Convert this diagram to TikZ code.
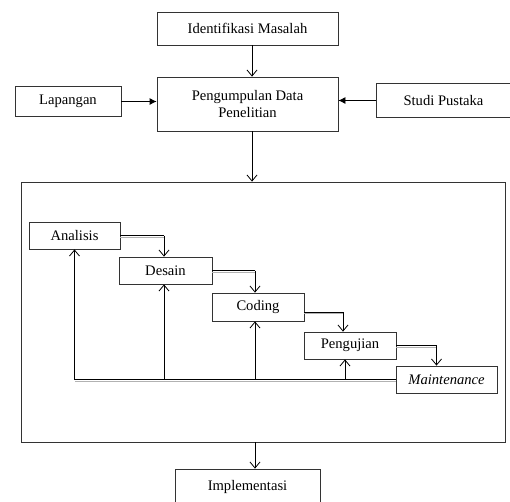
\documentclass[tikz,border=0pt]{standalone}
\usepackage{fontspec}
\setmainfont{Liberation Serif}
\usetikzlibrary{arrows,arrows.meta}

\begin{document}
\begin{tikzpicture}[x=1pt,y=-1pt,font=\fontsize{14.6}{17}\selectfont]
\tikzset{box/.style = {shape=rectangle,draw=black!80,line width=.8pt,inner sep=0pt,align=center}}
\tikzset{edge/.style = {-{Straight Barb[length=6pt,width=10pt]},line width=.8pt}}
\tikzset{feed/.style = {-{Latex[length=7pt,width=7pt]},line width=.8pt}}
\tikzset{line/.style = {line width=.8pt}}
\tikzset{shadowline/.style = {preaction={draw=black!30,line width=.8pt,transform canvas={yshift=-1.4pt}}}}
\useasboundingbox (0,0) rectangle (510,501);
% top boxes
\node[box,minimum width=181pt,minimum height=33pt] (idm) at (247.5,28.5) {Identifikasi Masalah};
\node[box,minimum width=181pt,minimum height=54pt] (pd) at (247.5,104) {Pengumpulan Data\\Penelitian};
\node[box,minimum width=106pt,minimum height=30pt] (lap) at (68,101.5) {Lapangan};
\node[box,minimum width=135pt,minimum height=34pt] (sp) at (443.5,100.5) {Studi Pustaka};

% phases
\node[box,minimum width=484pt,minimum height=260pt] (fase) at (263,312) {};
\node[box,minimum width=91pt,minimum height=27pt] (ana) at (74.5,235.5) {Analisis};
\node[box,minimum width=93pt,minimum height=27pt] (des) at (165.5,270.5) {Desain};
\node[box,minimum width=92pt,minimum height=28pt] (cod) at (258,307) {Coding};
\node[box,minimum width=92pt,minimum height=27pt] (pen) at (350,345.5) {Pengujian};
\node[box,minimum width=101pt,minimum height=27pt] (mai) at (446.5,379.5) {\textit{Maintenance}};
\node[box,minimum width=145pt,minimum height=36pt] (impl) at (247.5,487) {Implementasi};

% edges
\draw[edge] ([xshift=4.5pt]idm.south) -- ([xshift=4.5pt]pd.north);
\draw[feed] (lap.east) -- (lap.east -| pd.west);
\draw[feed] (sp.west) -- (sp.west -| pd.east);
\draw[edge] ([xshift=4.5pt]pd.south) -- ([xshift=4.5pt]pd.south |- fase.north);
\draw[edge] ([xshift=7.5pt]impl.north |- fase.south) -- ([xshift=7.5pt]impl.north);

% waterfall
\coordinate (xdes) at ([xshift=-1.5pt]des.north);
\coordinate (xcod) at ([xshift=-3pt]cod.north);
\coordinate (xpen) at ([xshift=-7pt]pen.north);
\coordinate (xmai) at ([xshift=-10pt]mai.north);
\coordinate (ycod) at ([yshift=-5pt]cod.east);
\draw[line,shadowline] (ana.east) -- (ana.east -| xdes);
\draw[edge] (ana.east -| xdes) -- (xdes);
\draw[line,shadowline] (des.east) -- (des.east -| xcod);
\draw[edge] (des.east -| xcod) -- (xcod);
\draw[line,shadowline] (ycod) -- (ycod -| xpen);
\draw[edge] (ycod -| xpen) -- (xpen);
\draw[line,shadowline] (pen.east) -- (pen.east -| xmai);
\draw[edge] (pen.east -| xmai) -- (xmai);

% feedback
\draw[line,shadowline] (mai.west) -- (ana.south |- mai.west);
\draw[edge] (ana.south |- mai.west) -- (ana.south);
\draw[edge] ([xshift=-1.5pt]des.south |- mai.west) -- ([xshift=-1.5pt]des.south);
\draw[edge] ([xshift=-3pt]cod.south |- mai.west) -- ([xshift=-3pt]cod.south);
\draw[edge] ([xshift=-5pt]pen.south |- mai.west) -- ([xshift=-5pt]pen.south);

\end{tikzpicture}
\end{document}
